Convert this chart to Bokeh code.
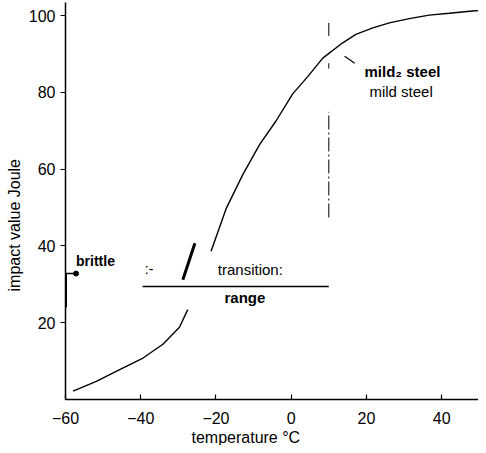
from bokeh.plotting import figure
from bokeh.models import Range1d, Label, FixedTicker, Title
from bokeh.embed import file_html
from bokeh.resources import INLINE

# curve data: lower and upper visible segments
low_x = [-58.0, -51.8, -45.6, -39.4, -34.1, -29.7, -27.5]
low_y = [2.2, 4.7, 7.8, 10.8, 14.4, 18.8, 23.4]
up_x = [-21.3, -17.3, -12.9, -8.4, -4.0, 0.4, 4.4, 8.4, 13.7, 17.2, 21.7, 26.1, 31.4, 36.7, 42.0, 48.2, 49.8]
up_y = [38.6, 49.7, 58.5, 66.4, 72.6, 79.6, 84.1, 88.9, 92.9, 95.1, 96.8, 98.1, 99.2, 100.1, 100.6, 101.2, 101.3]

x_ticks = [-60, -40, -20, 0, 20, 40]
y_ticks = [20, 40, 60, 80, 100]

# annotations
transition_start = -39.5
transition_end = 10.0
transition_y = 29.4
steel_temp = 10.0

FONT = "Liberation Sans"

p = figure(width=478, height=445, output_backend="svg", toolbar_location=None,
           x_range=Range1d(-60, 49.8), y_range=Range1d(0, 103.4),
           min_border_left=65, min_border_right=0, min_border_top=2, min_border_bottom=30)
p.outline_line_color = None
p.xgrid.visible = False
p.ygrid.visible = False

for ax in (p.xaxis[0], p.yaxis[0]):
    ax.axis_line_color = "black"
    ax.axis_line_width = 1.5
    ax.major_tick_line_color = "black"
    ax.major_tick_line_width = 1.2
    ax.minor_tick_line_color = None
    ax.major_label_text_font = FONT
    ax.major_label_text_font_size = "16px"
    ax.major_label_text_color = "black"

p.xaxis.ticker = FixedTicker(ticks=x_ticks)
p.yaxis.ticker = FixedTicker(ticks=y_ticks)
p.xaxis.major_tick_in = 5
p.xaxis.major_tick_out = 0
p.xaxis.major_label_standoff = 12
p.yaxis.major_tick_in = 0
p.yaxis.major_tick_out = 5
p.yaxis.major_label_standoff = 5

# curve
p.line(low_x, low_y, line_color="black", line_width=1.4)
p.line(up_x, up_y, line_color="black", line_width=1.4)

# dash-dot marker at mild steel transition temperature
p.line([steel_temp, steel_temp], [47.4, 74.9], line_color="black", line_width=1, line_dash="14 3 2 3")
p.line([steel_temp, steel_temp], [86.2, 87.6], line_color="black", line_width=1)
p.line([steel_temp, steel_temp], [94.7, 98.1], line_color="black", line_width=1)

# pointer to curve
p.line([14.2, 16.9], [89.4, 87.6], line_color="black", line_width=1.2)

# transition range line
p.line([transition_start, transition_end], [transition_y, transition_y], line_color="black", line_width=1.5)
p.line([-25.6, -28.8], [40.7, 31.2], line_color="black", line_width=3)

# brittle marker
p.line([-60, -57.2], [32.8, 32.8], line_color="black", line_width=1.5)
p.line([-60, -60], [24.0, 32.8], line_color="black", line_width=3)
p.scatter([-57.2], [32.8], size=5, color="black")

def lab(x, y, text, size="15px", bold=False, align="left"):
    l = Label(x=x, y=y, text=text, text_font=FONT, text_font_size=size,
              text_color="black", text_align=align, text_baseline="middle",
              text_font_style="bold" if bold else "normal")
    p.add_layout(l)

lab(-57.2, 36.0, "brittle", size="14px", bold=True)
lab(-38.9, 33.9, ":-", size="14px")
lab(-19.5, 33.9, "transition:", size="15px")
lab(-12.3, 26.6, "range", size="15px", bold=True, align="center")
lab(19.5, 85.4, "mild₂ steel", size="15px", bold=True)
lab(20.8, 80.2, "mild steel", size="15px")

# axis titles
xt = Title(text="temperature °C", align="left", offset=126, text_font=FONT,
           text_font_size="16px", text_font_style="normal", text_color="black", standoff=0)
p.add_layout(xt, "below")
yt = Title(text="impact value Joule", align="left", offset=108, text_font=FONT,
           text_font_size="16px", text_font_style="normal", text_color="black", standoff=6)
p.add_layout(yt, "left")

open("out.html", "w").write(file_html(p, INLINE))
